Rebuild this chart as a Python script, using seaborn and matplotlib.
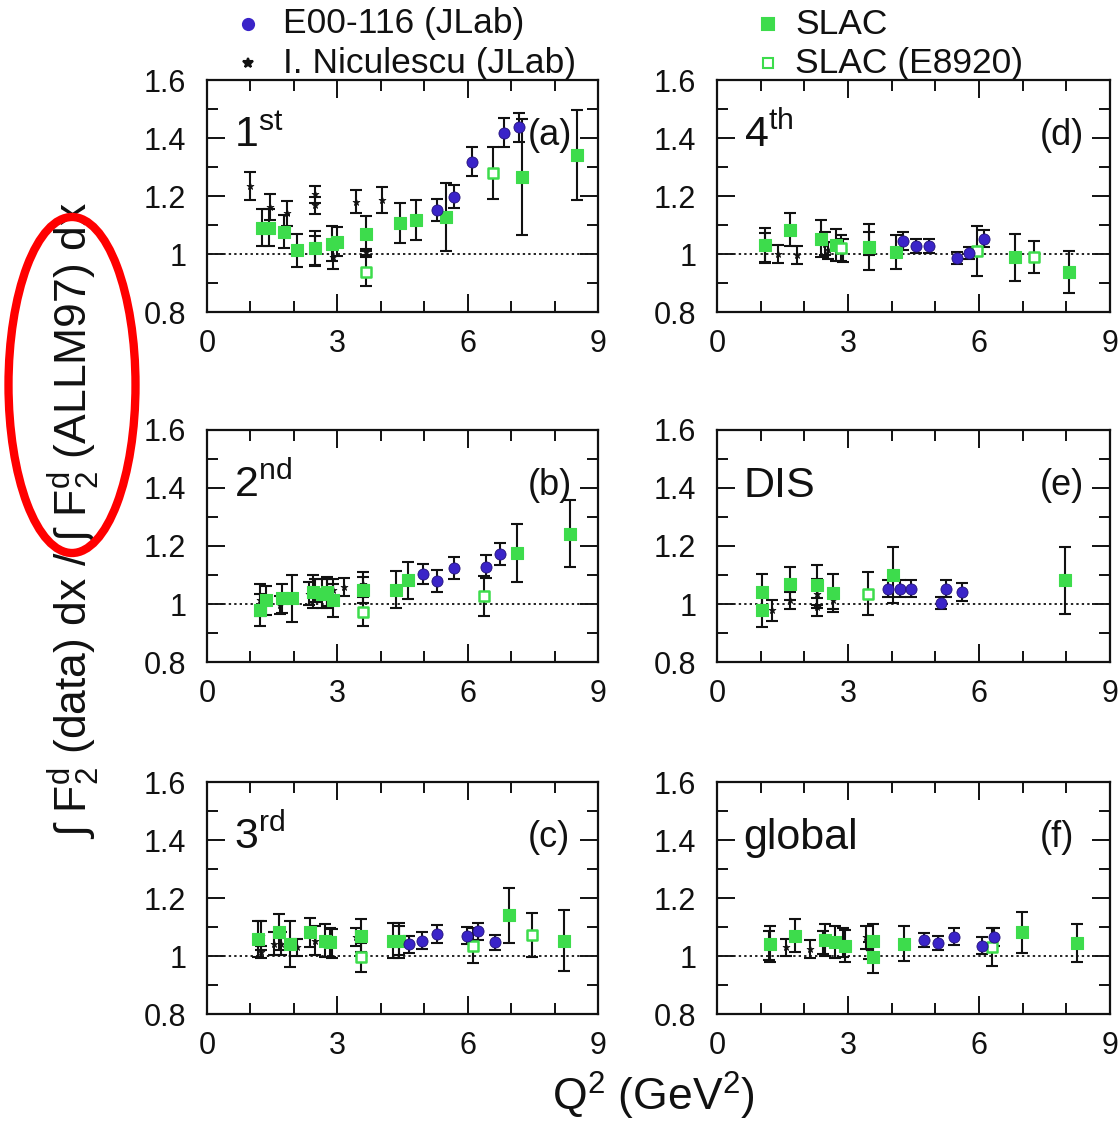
import matplotlib
matplotlib.use("Agg")
import matplotlib.pyplot as plt
import numpy as np
import pandas as pd
import seaborn as sns
from matplotlib.patches import Ellipse
from matplotlib.lines import Line2D
from matplotlib.ticker import MultipleLocator, FuncFormatter

# ---- data: (Q^2 [GeV^2], ratio, error) per panel and data set ----
# (a) 1st resonance region
A_E00 = [(5.30, 1.151, 0.037), (5.68, 1.197, 0.040), (6.09, 1.318, 0.050), (6.84, 1.418, 0.050), (7.18, 1.437, 0.050)]
A_NIC = [(0.98, 1.234, 0.048), (1.45, 1.163, 0.045), (1.85, 1.140, 0.043), (2.49, 1.206, 0.030), (2.49, 1.168, 0.030),
         (2.49, 1.013, 0.050), (2.91, 0.990, 0.040), (3.42, 1.180, 0.040), (4.02, 1.186, 0.045), (3.66, 1.007, 0.010)]
A_SLAC = [(1.26, 1.091, 0.063), (1.42, 1.091, 0.063), (1.78, 1.076, 0.057), (2.07, 1.013, 0.057), (2.49, 1.019, 0.060),
          (2.87, 1.036, 0.060), (2.99, 1.042, 0.050), (3.66, 1.070, 0.060), (4.44, 1.107, 0.070), (4.81, 1.117, 0.070),
          (5.51, 1.128, 0.118), (7.26, 1.264, 0.200), (8.52, 1.341, 0.155)]
A_E8920 = [(3.66, 0.938, 0.050), (6.58, 1.280, 0.090)]

# (b) 2nd resonance region
B_E00 = [(4.98, 1.103, 0.035), (5.29, 1.080, 0.037), (5.69, 1.125, 0.038), (6.43, 1.128, 0.040), (6.74, 1.172, 0.037)]
B_NIC = [(1.22, 1.013, 0.055), (1.69, 0.996, 0.030), (2.34, 1.036, 0.040), (2.49, 1.047, 0.040), (2.76, 1.036, 0.050),
         (2.91, 1.047, 0.040), (3.15, 1.059, 0.030), (3.59, 1.070, 0.040)]
B_SLAC = [(1.23, 0.978, 0.055), (1.35, 1.013, 0.050), (1.73, 1.019, 0.050), (1.96, 1.019, 0.080), (2.45, 1.042, 0.057),
          (2.64, 1.036, 0.050), (2.76, 1.042, 0.050), (2.91, 1.013, 0.057), (3.59, 1.047, 0.045), (4.36, 1.050, 0.063),
          (4.62, 1.082, 0.064), (7.14, 1.176, 0.100), (8.36, 1.243, 0.116)]
B_E8920 = [(3.59, 0.973, 0.050), (6.38, 1.027, 0.070)]

# (c) 3rd resonance region
C_E00 = [(4.64, 1.040, 0.030), (4.94, 1.053, 0.030), (5.30, 1.076, 0.030), (5.98, 1.070, 0.030), (6.23, 1.085, 0.030),
         (6.62, 1.047, 0.025)]
C_NIC = [(1.24, 1.070, 0.050), (1.24, 1.013, 0.020), (1.55, 1.042, 0.040), (1.70, 1.042, 0.040), (2.08, 1.030, 0.030),
         (2.49, 1.053, 0.050), (2.87, 1.042, 0.050), (3.44, 1.065, 0.030), (4.41, 1.053, 0.050)]
C_SLAC = [(1.17, 1.059, 0.063), (1.66, 1.082, 0.063), (1.92, 1.042, 0.080), (2.38, 1.082, 0.050), (2.72, 1.053, 0.057),
          (2.83, 1.047, 0.050), (3.55, 1.070, 0.057), (4.27, 1.053, 0.060), (4.41, 1.053, 0.060), (6.96, 1.140, 0.095),
          (8.21, 1.053, 0.105)]
C_E8920 = [(3.55, 0.996, 0.050), (6.13, 1.036, 0.060), (7.48, 1.073, 0.077)]

# (d) 4th resonance region
D_E00 = [(4.25, 1.045, 0.030), (4.56, 1.027, 0.025), (4.86, 1.027, 0.025), (5.50, 0.986, 0.020), (5.77, 1.004, 0.020),
         (6.11, 1.053, 0.030)]
D_NIC = [(1.10, 1.024, 0.050), (1.40, 1.000, 0.030), (1.84, 0.996, 0.030), (2.47, 1.036, 0.040), (2.54, 1.013, 0.030),
         (2.89, 1.013, 0.040), (3.49, 1.036, 0.040)]
D_SLAC = [(1.10, 1.030, 0.060), (1.67, 1.084, 0.056), (2.39, 1.053, 0.065), (2.73, 1.030, 0.055), (3.49, 1.024, 0.080),
          (4.10, 1.007, 0.060), (6.83, 0.988, 0.080), (8.05, 0.939, 0.073)]
D_E8920 = [(2.85, 1.020, 0.045), (5.96, 1.010, 0.085), (7.25, 0.990, 0.055)]

# (e) DIS region
E_E00 = [(3.91, 1.053, 0.030), (4.18, 1.053, 0.030), (4.44, 1.053, 0.030), (5.13, 1.004, 0.020), (5.24, 1.053, 0.030),
         (5.62, 1.042, 0.030)]
E_NIC = [(1.25, 0.978, 0.035), (1.67, 1.013, 0.030), (2.28, 1.036, 0.050), (2.28, 0.990, 0.030), (2.66, 1.013, 0.030)]
E_SLAC = [(1.03, 0.978, 0.057), (1.03, 1.042, 0.060), (1.67, 1.070, 0.057), (2.28, 1.065, 0.070), (2.66, 1.038, 0.065),
          (4.02, 1.100, 0.096), (7.97, 1.082, 0.116)]
E_E8920 = [(3.45, 1.036, 0.073)]

# (f) global
F_E00 = [(4.75, 1.055, 0.025), (5.05, 1.044, 0.025), (5.43, 1.067, 0.030), (6.08, 1.036, 0.030), (6.34, 1.065, 0.030)]
F_NIC = [(1.18, 1.036, 0.050), (1.59, 1.030, 0.030), (2.12, 1.024, 0.030), (2.42, 1.047, 0.040), (2.88, 1.047, 0.050),
         (3.41, 1.065, 0.040), (3.49, 1.018, 0.030)]
F_SLAC = [(1.22, 1.042, 0.063), (1.78, 1.070, 0.057), (2.47, 1.055, 0.055), (2.70, 1.047, 0.055), (2.92, 1.036, 0.055),
          (3.57, 1.053, 0.057), (3.57, 0.996, 0.055), (4.29, 1.042, 0.060), (6.99, 1.082, 0.070), (8.24, 1.044, 0.066)]
F_E8920 = [(6.29, 1.030, 0.066)]

PANEL_KEYS = ["a", "b", "c", "d", "e", "f"]
REGION_NAMES = [r"1$^{\rm st}$", r"2$^{\rm nd}$", r"3$^{\rm rd}$", r"4$^{\rm th}$", "DIS", "global"]
PANEL_TAGS = ["(a)", "(b)", "(c)", "(d)", "(e)", "(f)"]
SOURCE_LABELS = ["E00-116 (JLab)", "I. Niculescu (JLab)", "SLAC", "SLAC (E8920)"]

panel_sets = {
    "a": (A_E00, A_NIC, A_SLAC, A_E8920),
    "b": (B_E00, B_NIC, B_SLAC, B_E8920),
    "c": (C_E00, C_NIC, C_SLAC, C_E8920),
    "d": (D_E00, D_NIC, D_SLAC, D_E8920),
    "e": (E_E00, E_NIC, E_SLAC, E_E8920),
    "f": (F_E00, F_NIC, F_SLAC, F_E8920),
}

rows = []
for key, sets in panel_sets.items():
    for label, pts in zip(SOURCE_LABELS, sets):
        for q2, r, e in pts:
            rows.append(dict(panel=key, source=label, q2=q2, ratio=r, err=e))
df = pd.DataFrame(rows)

# ---- style ----
sns.set_theme(style="ticks")
plt.rcParams["font.family"] = ["Liberation Sans", "DejaVu Sans"]
plt.rcParams["mathtext.fontset"] = "custom"
plt.rcParams["mathtext.rm"] = "Liberation Sans"
plt.rcParams["mathtext.it"] = "Liberation Sans:italic"
plt.rcParams["mathtext.bf"] = "Liberation Sans:bold"

BLUE = "#3a24c8"
BLUE_EDGE = "#24127a"
GREEN = "#3ddc4c"

fig = plt.figure(figsize=(11.2, 11.21), dpi=100)
W, H = 1120.0, 1121.0

col_left = [207 / W, 717 / W]
col_width = [391 / W, 393 / W]
row_bottom = [1 - 312 / H, 1 - 662 / H, 1 - 1014 / H]
row_height = 232 / H

layout = {"a": (0, 0), "b": (0, 1), "c": (0, 2), "d": (1, 0), "e": (1, 1), "f": (1, 2)}

for idx, key in enumerate(PANEL_KEYS):
    c, r = layout[key]
    ax = fig.add_axes([col_left[c], row_bottom[r], col_width[c], row_height])
    sub = df[df.panel == key]

    ax.axhline(1.0, color="#222222", lw=1.4, ls=(0, (1.2, 1.6)), zorder=1)

    # error bars for every data set
    for label in SOURCE_LABELS:
        s = sub[sub.source == label]
        if len(s):
            ax.errorbar(s.q2, s.ratio, yerr=s.err, fmt="none", ecolor="#111111",
                        elinewidth=1.5, capsize=4.5, capthick=1.5, zorder=2)

    s = sub[sub.source == "I. Niculescu (JLab)"]
    sns.scatterplot(x=s.q2, y=s.ratio, marker="*", color="#111111", s=28,
                    edgecolor="#111111", linewidth=0.5, ax=ax, zorder=3, legend=False)
    s = sub[sub.source == "SLAC"]
    sns.scatterplot(x=s.q2, y=s.ratio, marker="s", color=GREEN, s=70,
                    edgecolor=GREEN, linewidth=0.8, ax=ax, zorder=4, legend=False)
    s = sub[sub.source == "SLAC (E8920)"]
    sns.scatterplot(x=s.q2, y=s.ratio, marker="s", color=GREEN, s=55,
                    edgecolor=GREEN, linewidth=1.8, ax=ax, zorder=4, legend=False)
    ax.collections[-1].set_facecolor("white")
    s = sub[sub.source == "E00-116 (JLab)"]
    sns.scatterplot(x=s.q2, y=s.ratio, marker="o", color=BLUE, s=64,
                    edgecolor=BLUE_EDGE, linewidth=0.6, ax=ax, zorder=5, legend=False)

    ax.set_xlim(0, 9)
    ax.set_ylim(0.8, 1.6)
    ax.set_xlabel("")
    ax.set_ylabel("")
    ax.xaxis.set_major_locator(MultipleLocator(3))
    ax.xaxis.set_minor_locator(MultipleLocator(1))
    ax.yaxis.set_major_locator(MultipleLocator(0.2))
    ax.yaxis.set_minor_locator(MultipleLocator(0.1))
    ax.yaxis.set_major_formatter(FuncFormatter(lambda v, p: f"{v:g}"))
    ax.xaxis.set_major_formatter(FuncFormatter(lambda v, p: f"{v:g}"))
    ax.tick_params(which="both", direction="in", top=True, right=True,
                   width=1.4, color="#111111", labelsize=22, labelcolor="#111111")
    ax.tick_params(which="major", length=13)
    ax.tick_params(which="minor", length=8)
    ax.tick_params(axis="y", pad=15)
    ax.tick_params(axis="x", pad=12)
    for sp in ax.spines.values():
        sp.set_linewidth(1.6)
        sp.set_color("#111111")
        sp.set_visible(True)

    ax.text(0.068, 0.713, REGION_NAMES[idx], transform=ax.transAxes,
            ha="left", va="baseline", fontsize=31, color="#111111")
    ax.text(0.821, 0.72, PANEL_TAGS[idx], transform=ax.transAxes,
            ha="left", va="baseline", fontsize=26, color="#111111")

# axis titles
fig.text(74 / W, 1 - 520 / H,
         "\u222b F$_2^{\\rm d}$ (data) dx / \u222b F$_2^{\\rm d}$ (ALLM97) dx",
         rotation=90, ha="center", va="center", fontsize=32, color="#111111")
fig.text(653 / W, 1 - 1111 / H, r"Q$^2$ (GeV$^2$)",
         ha="center", va="baseline", fontsize=32, color="#111111")

# legend
leg_items = [
    (248, 24, 283, "o", BLUE, BLUE, 8, SOURCE_LABELS[0]),
    (248, 63, 283, "*", "#111111", "#111111", 7, SOURCE_LABELS[1]),
    (768, 24, 795, "s", GREEN, GREEN, 8, SOURCE_LABELS[2]),
    (768, 63, 795, "s", "white", GREEN, 7, SOURCE_LABELS[3]),
]
for mx, my, tx, mk, fc, ec, ms, txt in leg_items:
    fig.add_artist(Line2D([mx / W], [1 - my / H], marker=mk, markersize=ms,
                          markerfacecolor=fc, markeredgecolor=ec, markeredgewidth=1.5,
                          linestyle="none", transform=fig.transFigure))
    fig.text(tx / W, 1 - my / H, txt, ha="left", va="center", fontsize=25.5, color="#111111")

# highlight ring around the denominator of the axis title
fig.add_artist(Ellipse((72 / W, 1 - 385 / H), 127 / W, 336 / H, transform=fig.transFigure,
                       fill=False, edgecolor="#ff0000", linewidth=6, zorder=10))

fig.savefig("out.png", dpi=100)
